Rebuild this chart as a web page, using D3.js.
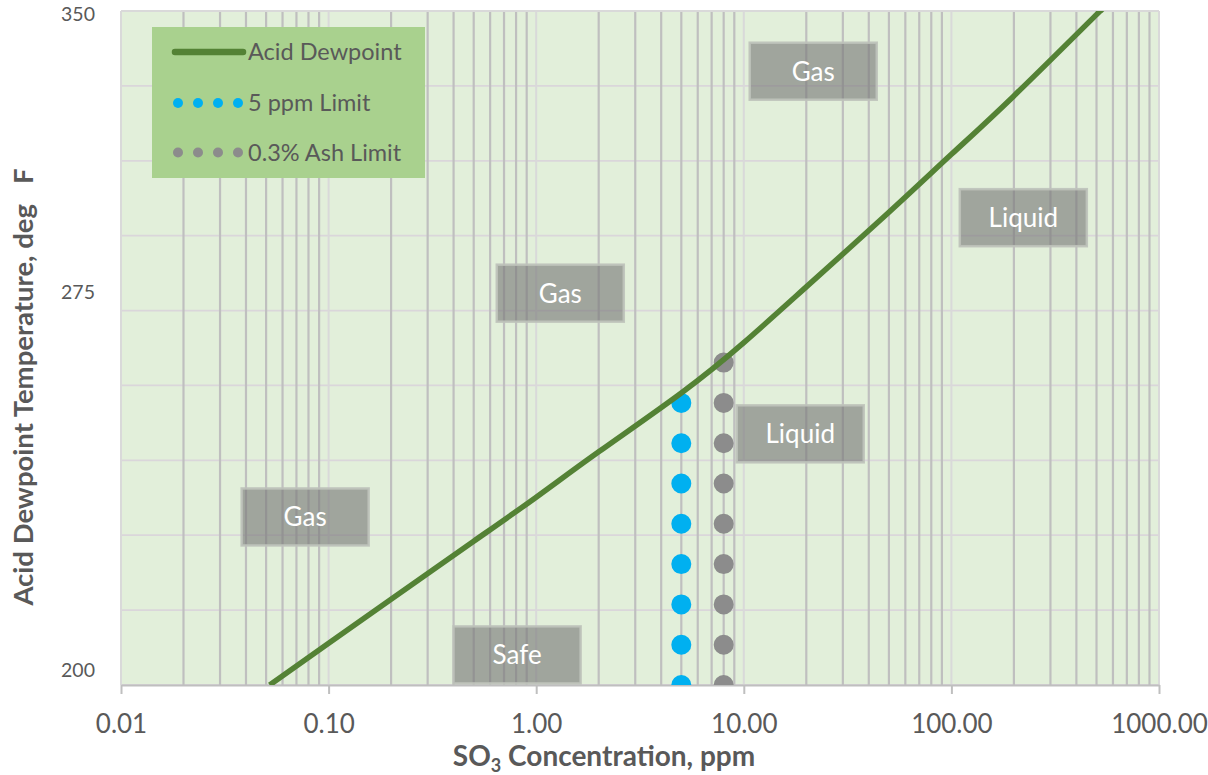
<!DOCTYPE html>
<html>
<head>
<meta charset="utf-8">
<script src="https://cdn.jsdelivr.net/npm/d3@7"></script>
<style>
  html, body { margin: 0; padding: 0; background: #fff; }
  svg { display: block; font-family: Lato, "Open Sans", sans-serif; }
</style>
</head>
<body>
<svg id="chart" width="1208" height="775"></svg>
<script>
// Acid dewpoint curve: SO3 concentration (ppm) vs dewpoint (deg F)
const so3Ppm    = [0.052, 0.1, 0.2, 0.5, 1, 2, 5, 10, 20, 50, 100, 200, 500, 522];
const dewpointF = [200, 209.3, 219.1, 232.0, 241.8, 251.9, 265.0, 276.2, 288.6, 305.2, 318.1, 331.1, 349.2, 350];

// Vertical limit lines: concentration and the dewpoint where each one stops
const limitNames = ["5 ppm Limit", "0.3% Ash Limit"];
const limitPpm   = [5, 8];
const limitBaseF = [200, 200];
const limitTopF  = [265.0, 272.2];

// Region annotations (centre of each box, in data units)
const regionText = ["Gas", "Liquid", "Gas", "Liquid", "Gas", "Safe"];
const regionPpm  = [21.6, 222, 1.306, 18.7, 0.0771, 0.809];
const regionF    = [336.6, 304.0, 287.2, 255.9, 237.4, 206.7];

// Axis ticks
const xTickValues = [0.01, 0.1, 1, 10, 100, 1000];
const yTickValues = [200, 275, 350];

const W = 1208, H = 775;
const plot = { left: 121, right: 1159, top: 11, bottom: 685 };
const textColor = "#595959";

const svg = d3.select("#chart");
svg.append("rect").attr("width", W).attr("height", H).attr("fill", "#fff");

const x = d3.scaleLog().domain([0.01, 1000]).range([plot.left, plot.right]);
const y = d3.scaleLinear().domain([200, 350]).range([plot.bottom, plot.top]);
// tick text sits a little off the gridlines on this axis
const yLabelPos = d3.scaleLinear().domain([200, 275, 350]).range([670, 292.5, 14]);

svg.append("defs").append("clipPath").attr("id", "plotClip")
  .append("rect")
  .attr("x", plot.left).attr("y", plot.top)
  .attr("width", plot.right - plot.left).attr("height", plot.bottom - plot.top);

// plot background
svg.append("rect")
  .attr("x", plot.left).attr("y", plot.top)
  .attr("width", plot.right - plot.left).attr("height", plot.bottom - plot.top)
  .attr("fill", "#e2efda");

// horizontal gridlines (nine equal steps)
const hGrid = d3.range(10).map(i => 200 + i * 150 / 9);
svg.append("g").selectAll("line").data(hGrid).join("line")
  .attr("x1", plot.left).attr("x2", plot.right)
  .attr("y1", d => y(d)).attr("y2", d => y(d))
  .attr("stroke", "#dad6da").attr("stroke-width", 1.8);

// vertical gridlines: minor (2..9 per decade) darker, decades lighter
const minorX = [];
for (let e = -2; e <= 2; e++) for (let k = 2; k <= 9; k++) minorX.push(k * Math.pow(10, e));
svg.append("g").selectAll("line").data(xTickValues).join("line")
  .attr("x1", d => x(d)).attr("x2", d => x(d))
  .attr("y1", plot.top).attr("y2", plot.bottom)
  .attr("stroke", "#d9d9d9").attr("stroke-width", 2);
svg.append("g").selectAll("line").data(minorX).join("line")
  .attr("x1", d => x(d)).attr("x2", d => x(d))
  .attr("y1", plot.top).attr("y2", plot.bottom)
  .attr("stroke", "#bfbfbf").attr("stroke-width", 2.2);

// plot frame (top / left)
svg.append("line").attr("x1", plot.left).attr("x2", plot.right)
  .attr("y1", plot.top).attr("y2", plot.top)
  .attr("stroke", "#d9d9d9").attr("stroke-width", 2);
svg.append("line").attr("x1", plot.left).attr("x2", plot.left)
  .attr("y1", plot.top).attr("y2", plot.bottom)
  .attr("stroke", "#d9d9d9").attr("stroke-width", 2);

// x axis
const xAxis = svg.append("g")
  .attr("transform", `translate(0,${plot.bottom})`)
  .call(d3.axisBottom(x).tickValues(xTickValues).tickFormat(d3.format(".2f"))
    .tickSizeInner(9).tickSizeOuter(0).tickPadding(0));
xAxis.select(".domain").attr("stroke", "#bfbfbf").attr("stroke-width", 2);
xAxis.selectAll(".tick line").attr("stroke", "#bfbfbf").attr("stroke-width", 2);
xAxis.selectAll(".tick text")
  .attr("y", 48).attr("dy", null)
  .attr("fill", textColor).attr("font-size", 26)
  .attr("font-family", "Lato, 'Open Sans', sans-serif");

// y axis tick labels
const yAxis = svg.append("g")
  .attr("transform", `translate(${plot.left},0)`)
  .call(d3.axisLeft(yLabelPos).tickValues(yTickValues).tickFormat(d3.format("d"))
    .tickSize(0).tickPadding(26));
yAxis.select(".domain").remove();
yAxis.selectAll(".tick text")
  .attr("fill", textColor).attr("font-size", 19.5)
  .attr("font-family", "Lato, 'Open Sans', sans-serif");

// region annotation boxes
const boxW = 127, boxH = 57;
const regions = regionText.map((t, i) => ({ t, ppm: regionPpm[i], f: regionF[i] }));
const rg = svg.append("g").selectAll("g").data(regions).join("g")
  .attr("transform", d => `translate(${x(d.ppm)},${y(d.f)})`);
rg.append("rect")
  .attr("x", -boxW / 2).attr("y", -boxH / 2).attr("width", boxW).attr("height", boxH)
  .attr("fill", "rgba(119,119,119,0.62)")
  .attr("stroke", "rgba(190,194,186,0.9)").attr("stroke-width", 2.5);
rg.append("text")
  .attr("text-anchor", "middle").attr("dy", "0.36em")
  .attr("fill", "#fff").attr("font-size", 26)
  .text(d => d.t);

const plotLayer = svg.append("g").attr("clip-path", "url(#plotClip)");

// dotted limit lines
const limitColors = ["#00b0f0", "#8c8c8c"];
const limits = limitNames.map((n, i) => ({
  name: n, color: limitColors[i],
  pts: [[limitPpm[i], limitBaseF[i]], [limitPpm[i], limitTopF[i]]]
}));
const lineGen = d3.line().x(d => x(d[0])).y(d => y(d[1]));
plotLayer.selectAll("path.limit").data(limits).join("path")
  .attr("class", "limit")
  .attr("d", d => lineGen(d.pts))
  .attr("fill", "none")
  .attr("stroke", d => d.color)
  .attr("stroke-width", 20)
  .attr("stroke-linecap", "round")
  .attr("stroke-dasharray", "0 40.3");

// dewpoint curve
const curvePts = so3Ppm.map((c, i) => [c, dewpointF[i]]);
plotLayer.append("path")
  .attr("d", d3.line().x(d => x(d[0])).y(d => y(d[1])).curve(d3.curveNatural)(curvePts))
  .attr("fill", "none")
  .attr("stroke", "#548235")
  .attr("stroke-width", 5.5)
  .attr("stroke-linejoin", "round");

// legend
const lg = svg.append("g").attr("transform", "translate(152,27)");
lg.append("rect").attr("width", 273).attr("height", 151).attr("fill", "#a9d18e");
const legendFont = 23.5;
lg.append("line").attr("x1", 23).attr("x2", 91).attr("y1", 25).attr("y2", 25)
  .attr("stroke", "#548235").attr("stroke-width", 6.5).attr("stroke-linecap", "round");
lg.append("text").attr("x", 96).attr("y", 25).attr("dy", "0.36em")
  .attr("fill", textColor).attr("font-size", legendFont).text("Acid Dewpoint");
limits.forEach((l, i) => {
  const cy = 76 + i * 49.5;
  lg.append("g").selectAll("circle").data(d3.range(4)).join("circle")
    .attr("cx", k => 26 + k * 20).attr("cy", cy).attr("r", 5)
    .attr("fill", l.color);
  lg.append("text").attr("x", 96).attr("y", cy).attr("dy", "0.36em")
    .attr("fill", textColor).attr("font-size", legendFont).text(l.name);
});

// axis titles
const xt = svg.append("text")
  .attr("x", 604).attr("y", 766)
  .attr("text-anchor", "middle")
  .attr("fill", textColor).attr("font-size", 28).attr("font-weight", "bold");
xt.append("tspan").text("SO");
xt.append("tspan").attr("font-size", 18).attr("dy", 6).text("3");
xt.append("tspan").attr("dy", -6).text(" Concentration, ppm");

svg.append("text")
  .attr("transform", "translate(33,387) rotate(-90)")
  .attr("text-anchor", "middle")
  .attr("fill", textColor).attr("font-size", 27.5).attr("font-weight", "bold")
  .text("Acid Dewpoint Temperature, deg\u00a0\u00a0\u00a0F");
</script>
</body>
</html>
